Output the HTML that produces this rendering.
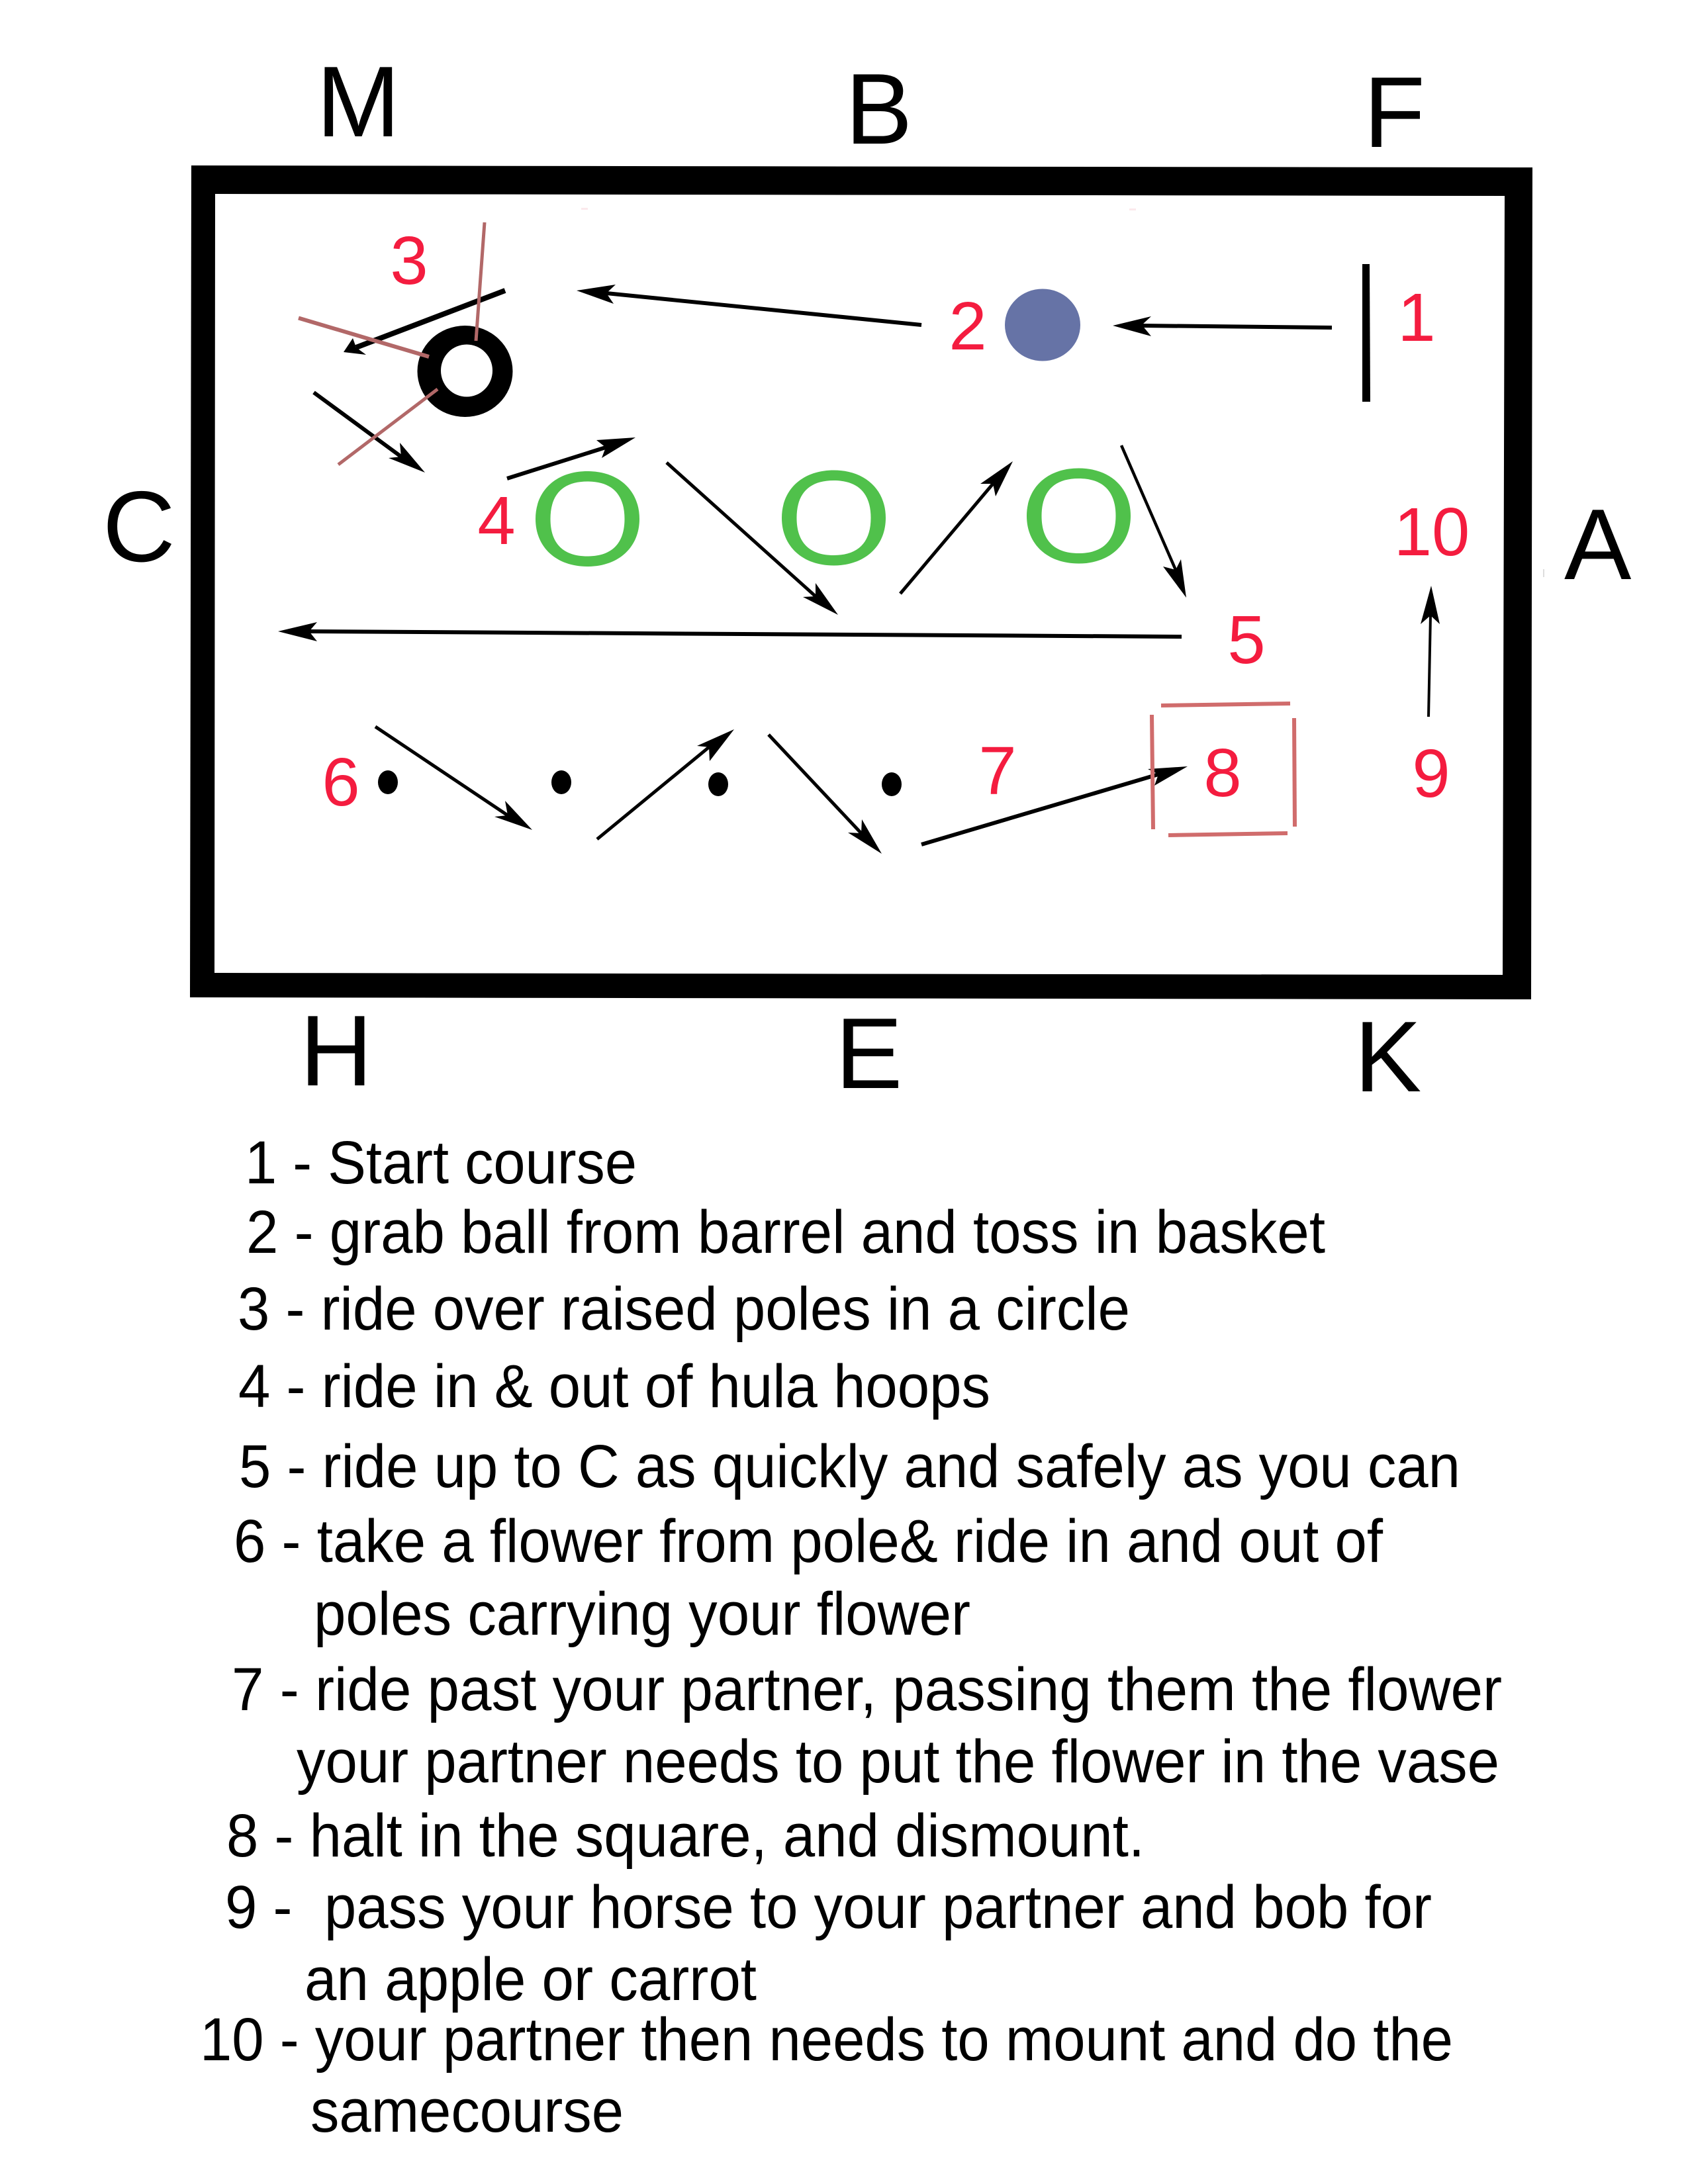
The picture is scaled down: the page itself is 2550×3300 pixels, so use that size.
<!DOCTYPE html>
<html><head><meta charset="utf-8"><style>
html,body{margin:0;padding:0;background:#fff}
svg{display:block}
text{font-family:"Liberation Sans",sans-serif;white-space:pre}
.L{font-size:152px;fill:#000}
.N{font-size:103px;fill:#f41c3f;text-anchor:middle}
.T{font-size:92px;fill:#000}
</style></head><body>
<svg xmlns="http://www.w3.org/2000/svg" width="2550" height="3300" viewBox="0 0 2550 3300">
<rect width="2550" height="3300" fill="#fff"/>
<path fill="#000" fill-rule="evenodd" d="M289 250L2315 253L2313 1510L287 1507ZM325 293L324 1470L2270 1473L2273 296Z"/>

<text class="L" x="478" y="206">M</text>
<text class="L" x="1277" y="217">B</text>
<text class="L" x="2060" y="222">F</text>
<text class="L" x="155" y="848">C</text>
<text class="L" x="2363" y="875">A</text>
<text class="L" x="453" y="1640">H</text>
<text class="L" x="1262" y="1644">E</text>
<text class="L" x="2046" y="1649">K</text>

<ellipse cx="702.5" cy="561" rx="72" ry="69" fill="#000"/>
<ellipse cx="705" cy="560" rx="39" ry="39.5" fill="#fff"/>
<ellipse cx="1575" cy="491" rx="57" ry="54.5" fill="#6673a6"/>

<g fill="#50c14b" fill-rule="evenodd">
<path transform="translate(887.5 784)" d="M-78.5 0C-78.5 -43 -47 -72 0 -72C47 -72 78.5 -43 78.5 0C78.5 43 47 72 0 72C-47 72 -78.5 43 -78.5 0ZM-56 0C-56 37 -37 56.5 0 56.5C37 56.5 56 37 56 0C56 -37 37 -56.5 0 -56.5C-37 -56.5 -56 -37 -56 0Z"/>
<path transform="translate(1259.5 782.5)" d="M-78.5 0C-78.5 -43 -47 -72 0 -72C47 -72 78.5 -43 78.5 0C78.5 43 47 72 0 72C-47 72 -78.5 43 -78.5 0ZM-56 0C-56 37 -37 56.5 0 56.5C37 56.5 56 37 56 0C56 -37 37 -56.5 0 -56.5C-37 -56.5 -56 -37 -56 0Z"/>
<path transform="translate(1629.5 779.5)" d="M-78.5 0C-78.5 -43 -47 -72 0 -72C47 -72 78.5 -43 78.5 0C78.5 43 47 72 0 72C-47 72 -78.5 43 -78.5 0ZM-56 0C-56 37 -37 56.5 0 56.5C37 56.5 56 37 56 0C56 -37 37 -56.5 0 -56.5C-37 -56.5 -56 -37 -56 0Z"/>
</g>

<g fill="#000">
<ellipse cx="586" cy="1182" rx="15" ry="18"/>
<ellipse cx="848" cy="1182" rx="15" ry="18"/>
<ellipse cx="1085" cy="1185" rx="15" ry="18"/>
<ellipse cx="1347" cy="1185" rx="15" ry="18"/>
<polygon points="2058,399 2069,399 2070,607 2058,607"/>
</g>

<g fill="#000" stroke="none">
<polygon points="1681,492 1739,478 1725,491 1739,508"/>
<polygon points="871,439 930,430 916,443 927,459"/>
<polygon points="519,532 533,511 538,525 553,536"/>
<polygon points="642,714 604,669 606,690 587,692"/>
<polygon points="960,661 901,665 915,676 909,692"/>
<polygon points="1266,929 1232,881 1232,901 1213,902"/>
<polygon points="1530,697 1481,731 1500,731 1504,750"/>
<polygon points="1792,903 1757,856 1776,861 1784,845"/>
<polygon points="420,954 479,940 467,954 479,969"/>
<polygon points="2162,885 2146,943 2161,930 2175,943"/>
<polygon points="804,1254 763,1210 767,1232 747,1234"/>
<polygon points="1109,1102 1053,1127 1071,1129 1072,1150"/>
<polygon points="1332,1290 1302,1238 1301,1259 1281,1258"/>
<polygon points="1794,1158 1734,1162 1750,1170 1744,1187"/>
</g>
<g stroke="#000" fill="none">
<line x1="2012" y1="495" x2="1725" y2="492" stroke-width="6"/>
<line x1="1392" y1="491" x2="916" y2="443" stroke-width="6"/>
<line x1="763" y1="439" x2="538" y2="525" stroke-width="8"/>
<line x1="474" y1="593" x2="606" y2="690" stroke-width="6"/>
<line x1="766" y1="723" x2="915" y2="676" stroke-width="6"/>
<line x1="1007" y1="699" x2="1232" y2="901" stroke-width="5"/>
<line x1="1360" y1="897" x2="1500" y2="731" stroke-width="5"/>
<line x1="1694" y1="673" x2="1776" y2="861" stroke-width="4.5"/>
<line x1="467" y1="954" x2="1785" y2="962" stroke-width="6"/>
<line x1="2158" y1="1083" x2="2161" y2="930" stroke-width="4"/>
<line x1="567" y1="1098" x2="767" y2="1232" stroke-width="5"/>
<line x1="902" y1="1268" x2="1071" y2="1129" stroke-width="5"/>
<line x1="1161" y1="1110" x2="1301" y2="1259" stroke-width="5"/>
<line x1="1392" y1="1276" x2="1750" y2="1170" stroke-width="6"/>
</g>

<g stroke="#b26868" fill="none">
<line x1="732" y1="336" x2="719" y2="515" stroke-width="5"/>
<line x1="451" y1="480.5" x2="648" y2="539" stroke-width="6"/>
<line x1="661" y1="588" x2="511" y2="702" stroke-width="5"/>
</g>
<g stroke="#d06c6c" stroke-width="6" fill="none">
<line x1="1754" y1="1066" x2="1949" y2="1063"/>
<line x1="1740" y1="1080" x2="1742" y2="1253"/>
<line x1="1955" y1="1085" x2="1956" y2="1249"/>
<line x1="1765" y1="1262" x2="1945" y2="1259"/>
</g>
<rect x="878" y="314" width="10" height="3" fill="#fbe9ec"/>
<rect x="1706" y="315" width="10" height="3" fill="#fbe9ec"/>
<rect x="2331" y="860" width="2" height="12" fill="#ddd"/>

<text class="N" x="618" y="429">3</text>
<text class="N" x="750" y="822">4</text>
<text class="N" x="1462" y="528">2</text>
<text class="N" x="2140" y="515">1</text>
<text class="N" x="2163" y="839">10</text>
<text class="N" x="1883" y="1002">5</text>
<text class="N" x="515" y="1217">6</text>
<text class="N" x="1507" y="1200">7</text>
<text class="N" x="1847" y="1203">8</text>
<text class="N" x="2162" y="1204">9</text>

<text class="T" x="370" y="1788" textLength="592" lengthAdjust="spacingAndGlyphs">1 - Start course</text>
<text class="T" x="372" y="1893" textLength="1630" lengthAdjust="spacingAndGlyphs">2 - grab ball from barrel and toss in basket</text>
<text class="T" x="359" y="2009" textLength="1348" lengthAdjust="spacingAndGlyphs">3 - ride over raised poles in a circle</text>
<text class="T" x="360" y="2126" textLength="1136" lengthAdjust="spacingAndGlyphs">4 - ride in &amp; out of hula hoops</text>
<text class="T" x="361" y="2247" textLength="1845" lengthAdjust="spacingAndGlyphs">5 - ride up to C as quickly and safely as you can</text>
<text class="T" x="353" y="2360" textLength="1736" lengthAdjust="spacingAndGlyphs">6 - take a flower from pole&amp; ride in and out of</text>
<text class="T" x="474" y="2470" textLength="992" lengthAdjust="spacingAndGlyphs">poles carrying your flower</text>
<text class="T" x="350" y="2584" textLength="1919" lengthAdjust="spacingAndGlyphs">7 - ride past your partner, passing them the flower</text>
<text class="T" x="448" y="2693" textLength="1817" lengthAdjust="spacingAndGlyphs">your partner needs to put the flower in the vase</text>
<text class="T" x="342" y="2805" textLength="1387" lengthAdjust="spacingAndGlyphs">8 - halt in the square, and dismount.</text>
<text class="T" x="340" y="2913" textLength="1823" lengthAdjust="spacingAndGlyphs">9 -  pass your horse to your partner and bob for</text>
<text class="T" x="460" y="3022" textLength="683" lengthAdjust="spacingAndGlyphs">an apple or carrot</text>
<text class="T" x="302" y="3113" textLength="1893" lengthAdjust="spacingAndGlyphs">10 - your partner then needs to mount and do the</text>
<text class="T" x="469" y="3221" textLength="473" lengthAdjust="spacingAndGlyphs">samecourse</text>
</svg>
</body></html>
